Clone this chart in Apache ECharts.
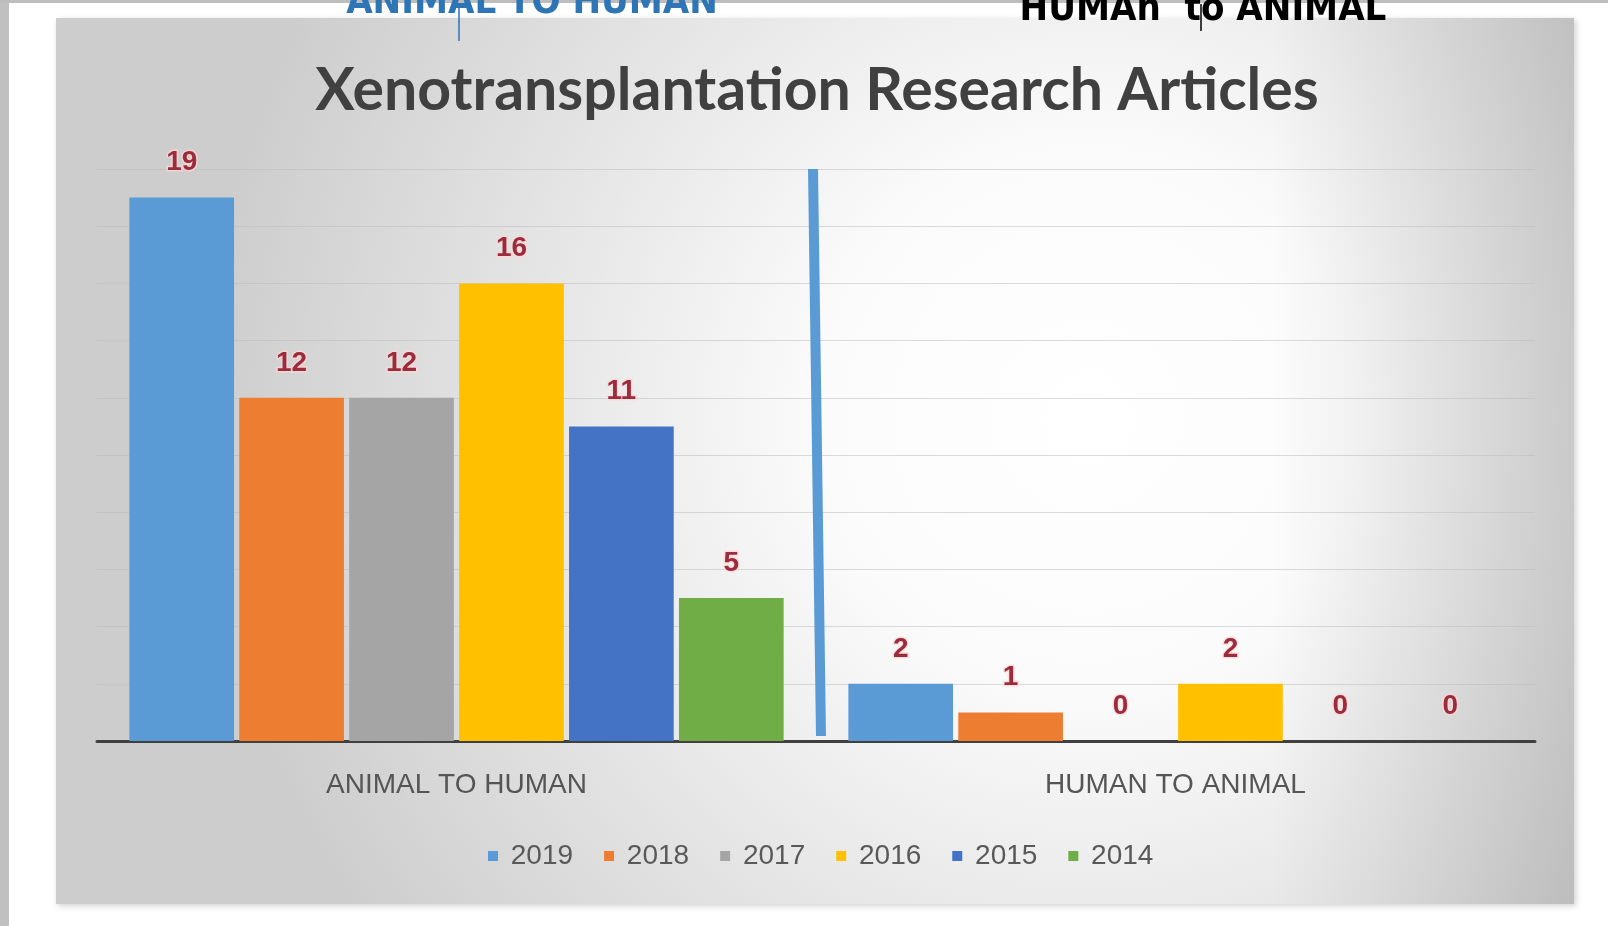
<!DOCTYPE html>
<html>
<head>
<meta charset="utf-8">
<title>Xenotransplantation Research Articles</title>
<script src="https://cdn.jsdelivr.net/npm/echarts@6/dist/echarts.min.js"></script>
<style>
  html, body { margin: 0; padding: 0; background: #fff; }
  #chart { width: 1608px; height: 926px; }
</style>
</head>
<body>
<div id="chart"></div>
<script>
// data
const categories = ['ANIMAL TO HUMAN', 'HUMAN TO ANIMAL'];
const years = ['2019', '2018', '2017', '2016', '2015', '2014'];
const v2019 = [19, 2];
const v2018 = [12, 1];
const v2017 = [12, 0];
const v2016 = [16, 2];
const v2015 = [11, 0];
const v2014 = [5, 0];
const yearColors = ['#5b9bd5', '#ed7d31', '#a5a5a5', '#ffc000', '#4472c4', '#70ad47'];

const chart = echarts.init(document.getElementById('chart'));

const labelStyle = {
  show: true,
  position: 'top',
  distance: 21,
  color: '#9c2b3c',
  fontSize: 28,
  fontWeight: 'bold',
  fontFamily: 'Liberation Sans, Arial, sans-serif',
  textBorderColor: 'rgba(255,215,215,0.7)',
  textBorderWidth: 3
};

const seriesData = [v2019, v2018, v2017, v2016, v2015, v2014];
const series = years.map((y, i) => ({
  name: y,
  type: 'bar',
  data: seriesData[i],
  barGap: '5%',
  barCategoryGap: '9%',
  itemStyle: { color: yearColors[i] },
  label: labelStyle
}));

const option = {
  color: yearColors,
  animation: false,
  title: {
    text: 'Xenotransplantation Research Articles',
    left: 812,
    top: 56,
    textAlign: 'center',
    textStyle: {
      color: '#404040',
      fontSize: 59,
      fontWeight: 'bold',
      fontFamily: 'Lato, sans-serif'
    }
  },
  legend: {
    data: years,
    left: 483,
    top: 837,
    icon: 'rect',
    itemWidth: 10,
    itemHeight: 10,
    itemGap: 31,
    formatter: ' {name}',
    textStyle: { color: '#595959', fontSize: 28, fontFamily: 'Liberation Sans Narrow, Arial, sans-serif' }
  },
  grid: { left: 97, right: 73, top: 169, bottom: 185, containLabel: false },
  xAxis: {
    type: 'category',
    data: categories,
    axisLine: { lineStyle: { color: '#404040', width: 3 } },
    axisTick: { show: false },
    axisLabel: {
      color: '#555555',
      fontSize: 28,
      margin: 30,
      fontFamily: 'Liberation Sans Narrow, Arial, sans-serif'
    }
  },
  yAxis: {
    type: 'value',
    min: 0,
    max: 20,
    interval: 2,
    axisLine: { show: false },
    axisLabel: { show: false },
    axisTick: { show: false },
    splitLine: { lineStyle: { color: 'rgba(190,190,190,0.55)', width: 1 } }
  },
  graphic: [
    // page frame bits
    { type: 'rect', z: -20, shape: { x: 0, y: 0, width: 9, height: 926 }, style: { fill: '#c0c0c0' } },
    { type: 'rect', z: -20, shape: { x: 0, y: 0, width: 1608, height: 3 }, style: { fill: '#bdbdbd' } },
    // chart panel
    {
      type: 'rect', z: -10,
      shape: { x: 56, y: 18, width: 1518, height: 886 },
      style: {
        fill: {
          type: 'radial', x: 0.68, y: 0.45, r: 1.0,
          colorStops: [
            { offset: 0, color: '#ffffff' },
            { offset: 0.3, color: '#fbfbfb' },
            { offset: 0.65, color: '#e4e4e4' },
            { offset: 1, color: '#cdcdcd' }
          ]
        },
        shadowBlur: 6,
        shadowColor: 'rgba(0,0,0,0.18)',
        shadowOffsetX: 2,
        shadowOffsetY: 2
      }
    },
    {
      type: 'rect', z: -9,
      shape: { x: 56, y: 18, width: 1518, height: 886 },
      style: {
        fill: {
          type: 'linear', x: 0, y: 0, x2: 1, y2: 0,
          colorStops: [
            { offset: 0, color: 'rgba(0,0,0,0)' },
            { offset: 0.8, color: 'rgba(0,0,0,0)' },
            { offset: 1, color: 'rgba(0,0,0,0.14)' }
          ]
        }
      }
    },
    // divider drawn on top of the chart
    {
      type: 'line', z: 100,
      shape: { x1: 813, y1: 169, x2: 821, y2: 736 },
      style: { stroke: '#5b9bd5', lineWidth: 10 }
    },
    // annotations at the top edge
    {
      type: 'text', z: 100, x: 532, y: 22,
      style: {
        text: 'ANIMAL TO HUMAN', fill: '#2e75b6', align: 'center', verticalAlign: 'bottom',
        fontSize: 38, fontWeight: 'bold', fontFamily: 'DejaVu Sans Condensed, sans-serif'
      }
    },
    { type: 'line', z: 100, shape: { x1: 459, y1: 8, x2: 459, y2: 41 }, style: { stroke: '#2e75b6', lineWidth: 1.5 } },
    {
      type: 'text', z: 100, x: 1203, y: 29,
      style: {
        text: 'HUMAn  to ANIMAL', fill: '#000000', align: 'center', verticalAlign: 'bottom',
        fontSize: 38, fontWeight: 'bold', fontFamily: 'DejaVu Sans Condensed, sans-serif'
      }
    },
    { type: 'line', z: 100, shape: { x1: 1201, y1: 4, x2: 1201, y2: 31 }, style: { stroke: '#000000', lineWidth: 1.5 } }
  ],
  series: series
};

chart.setOption(option);
</script>
</body>
</html>
